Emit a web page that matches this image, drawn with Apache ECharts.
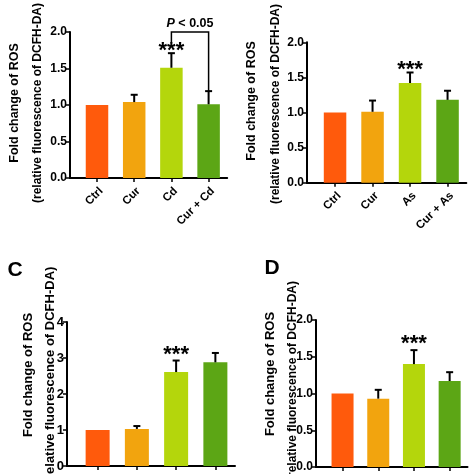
<!DOCTYPE html>
<html><head><meta charset="utf-8">
<script src="https://cdn.jsdelivr.net/npm/echarts@6/dist/echarts.min.js"></script>
<style>html,body{margin:0;padding:0;background:#fff}#c{width:474px;height:474px}</style>
</head><body><div id="c"></div>
<script>
// ---- data ----
const catsA = ['Ctrl', 'Cur', 'Cd', 'Cur + Cd'];
const valsA = [1.00, 1.04, 1.51, 1.01];
const errA  = [0, 0.10, 0.20, 0.18];
const sigA  = ['', '', '***', ''];

const catsB = ['Ctrl', 'Cur', 'As', 'Cur + As'];
const valsB = [1.00, 1.01, 1.42, 1.18];
const errB  = [0, 0.16, 0.15, 0.13];
const sigB  = ['', '', '***', ''];

const catsC = ['Ctrl', 'Cur', 'Treat', 'Cur + Treat'];
const valsC = [1.00, 1.03, 2.61, 2.88];
const errC  = [0, 0.08, 0.32, 0.26];
const sigC  = ['', '', '***', ''];

const catsD = ['Ctrl', 'Cur', 'Treat', 'Cur + Treat'];
const valsD = [1.00, 0.93, 1.40, 1.17];
const errD  = [0, 0.12, 0.19, 0.12];
const sigD  = ['', '', '***', ''];

// comparison bracket in panel A: [from index, to index, level, left leg end, right leg end]
const bracketA = [2, 3, 2.0, 1.86, 1.19];
const bracketLabelA = '{i|P} < 0.05';

const yTicksA = [0, 0.5, 1.0, 1.5, 2.0];
const yTicksB = [0, 0.5, 1.0, 1.5, 2.0];
const yTicksC = [0, 1, 2, 3, 4];
const yTicksD = [0, 0.5, 1.0, 1.5, 2.0];

const titleLine1 = 'Fold change of ROS';
const titleLine2 = '(relative fluorescence of DCFH-DA)';

const barColors = ['#FF5A0C', '#F2A40E', '#B4D60C', '#5CA615'];
const FONT = '"Liberation Sans", Arial, sans-serif';

// ---- layout ----
const panels = [
  {cats: catsA, vals: valsA, err: errA, sig: sigA, ticks: yTicksA, dec: 1,
   frameLeft: 70, barLeft: 78.4, barW: 148.8, top: 32, height: 146, bw: 22.5, sigOff: 5.5, showX: true},
  {cats: catsB, vals: valsB, err: errB, sig: sigB, ticks: yTicksB, dec: 1,
   frameLeft: 307, barLeft: 316.3, barW: 150, top: 42.3, height: 140.4, bw: 22.5, sigOff: 5.5, showX: true},
  {cats: catsC, vals: valsC, err: errC, sig: sigC, ticks: yTicksC, dec: 0,
   frameLeft: 67, barLeft: 78, barW: 157, top: 322, height: 144, bw: 24, sigOff: 8.5, showX: false},
  {cats: catsD, vals: valsD, err: errD, sig: sigD, ticks: yTicksD, dec: 1,
   frameLeft: 316, barLeft: 324.7, barW: 142.8, top: 320, height: 147, bw: 22, sigOff: 9, showX: false}
];

const grid = [], xAxis = [], yAxis = [], series = [];
panels.forEach((p, k) => {
  const mn = p.ticks[0], mx = p.ticks[p.ticks.length - 1], iv = p.ticks[1] - p.ticks[0];
  const right = p.barLeft + p.barW;
  grid.push({left: p.frameLeft, top: p.top, width: right - p.frameLeft, height: p.height});
  grid.push({left: p.barLeft, top: p.top, width: p.barW, height: p.height});
  const gf = 2 * k, gb = 2 * k + 1;
  xAxis.push({gridIndex: gf, type: 'category', data: [''], boundaryGap: true,
    axisLine: {show: true, lineStyle: {color: '#000', width: 2}},
    axisTick: {show: false}, axisLabel: {show: false}, splitLine: {show: false}});
  yAxis.push({gridIndex: gf, type: 'value', min: mn, max: mx, interval: iv,
    axisLine: {show: true, lineStyle: {color: '#000', width: 2}},
    axisTick: {show: true, length: 4, lineStyle: {color: '#000', width: 1.5}},
    axisLabel: {color: '#000', fontWeight: 'bold', fontSize: p.dec === 0 ? 13 : 12, fontFamily: FONT, margin: 3,
      formatter: v => v.toFixed(p.dec)},
    splitLine: {show: false}});
  xAxis.push({gridIndex: gb, type: 'category', data: p.cats, boundaryGap: true,
    axisLine: {show: false},
    axisTick: {show: true, alignWithLabel: true, length: 4, lineStyle: {color: '#000', width: 1.5}},
    axisLabel: {show: p.showX, interval: 0, rotate: 45, align: 'right', verticalAlign: 'top', margin: 7,
      color: '#000', fontWeight: 'bold', fontSize: 11.5, fontFamily: FONT},
    splitLine: {show: false}});
  yAxis.push({gridIndex: gb, type: 'value', min: mn, max: mx, interval: iv, show: false, splitLine: {show: false}});
  const xi = 2 * k + 1, yi = 2 * k + 1;
  series.push({type: 'bar', xAxisIndex: xi, yAxisIndex: yi, barWidth: p.bw,
    data: p.vals.map((v, i) => ({value: v, itemStyle: {color: barColors[i]}})), silent: true});
  series.push({type: 'custom', xAxisIndex: xi, yAxisIndex: yi, silent: true, z: 5,
    data: p.vals.map((v, i) => [i, v, p.err[i]]),
    renderItem: (params, api) => {
      const i = api.value(0), v = api.value(1), e = api.value(2);
      const p0 = api.coord([i, v]), p1 = api.coord([i, v + e]);
      const ch = [];
      if (e > 0) {
        ch.push({type: 'line', shape: {x1: p0[0], y1: p0[1], x2: p1[0], y2: p1[1]}, style: {stroke: '#000', lineWidth: 2}});
        ch.push({type: 'line', shape: {x1: p1[0] - 3.5, y1: p1[1], x2: p1[0] + 3.5, y2: p1[1]}, style: {stroke: '#000', lineWidth: 2}});
      }
      const s = p.sig[i];
      if (s) {
        ch.push({type: 'text', style: {text: s, x: p1[0], y: p1[1] - p.sigOff + 3, align: 'center', verticalAlign: 'middle',
          fill: '#000', font: 'bold 22px ' + FONT}});
      }
      return {type: 'group', children: ch};
    }});
});

series.push({type: 'custom', xAxisIndex: 1, yAxisIndex: 1, silent: true, z: 6,
  data: [bracketA],
  renderItem: (params, api) => {
    const a = api.value(0), b = api.value(1), lv = api.value(2), l1 = api.value(3), r1 = api.value(4);
    const pA = api.coord([a, l1]), pTop = api.coord([a, lv]), pB = api.coord([b, lv]), pB1 = api.coord([b, r1]);
    return {type: 'group', children: [
      {type: 'polyline', shape: {points: [pA, pTop, pB, pB1]}, style: {stroke: '#000', lineWidth: 1.5, fill: null}},
      {type: 'text', style: {text: bracketLabelA, x: (pTop[0] + pB[0]) / 2, y: pTop[1] - 8, align: 'center', verticalAlign: 'middle',
        fill: '#000', font: 'bold 12.5px ' + FONT,
        rich: {i: {fontStyle: 'italic', fontWeight: 'bold', fontSize: 12.5, fontFamily: FONT}}}}
    ]};
  }});

function vtitle(x, y, text, size) {
  return {type: 'text', x: x, y: y, rotation: Math.PI / 2,
    style: {text: text, align: 'center', verticalAlign: 'middle', fill: '#000', font: 'bold ' + size + 'px ' + FONT}};
}
const graphic = [
  vtitle(15, 103, titleLine1, 12.5), vtitle(38, 103, titleLine2, 12),
  vtitle(252, 101, titleLine1, 12.5), vtitle(276, 104, titleLine2, 12),
  vtitle(28, 375, titleLine1, 13), vtitle(50, 375, titleLine2, 13),
  vtitle(270, 374, titleLine1, 13), vtitle(293, 381, titleLine2, 12),
  {type: 'text', x: 15, y: 270, style: {text: 'C', align: 'center', verticalAlign: 'middle', fill: '#000', font: 'bold 21px ' + FONT}},
  {type: 'text', x: 272, y: 268, style: {text: 'D', align: 'center', verticalAlign: 'middle', fill: '#000', font: 'bold 21px ' + FONT}}
];

const chart = echarts.init(document.getElementById('c'), null, {renderer: 'canvas'});
chart.setOption({animation: false, backgroundColor: '#fff', grid, xAxis, yAxis, series, graphic});
</script></body></html>
